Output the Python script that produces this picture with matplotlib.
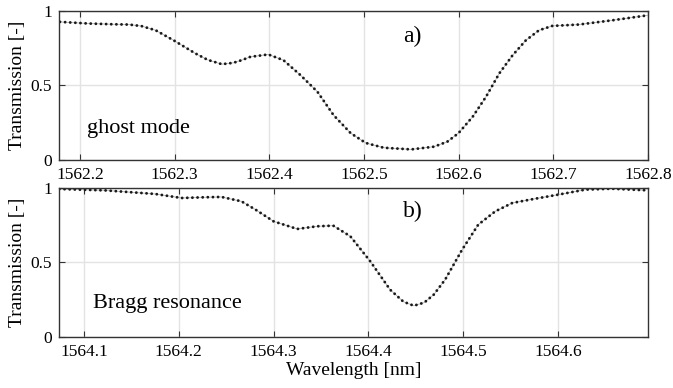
import matplotlib.pyplot as plt

# panel a) ghost mode
wl_a = [1562.179, 1562.209, 1562.235, 1562.252, 1562.265, 1562.280, 1562.300,
        1562.322, 1562.335, 1562.350, 1562.362, 1562.371, 1562.380, 1562.399,
        1562.415, 1562.433, 1562.451, 1562.468, 1562.486, 1562.502, 1562.521,
        1562.550, 1562.574, 1562.588, 1562.600, 1562.615, 1562.629, 1562.643,
        1562.657, 1562.671, 1562.685, 1562.699, 1562.727, 1562.763, 1562.800]
tr_a = [0.924, 0.913, 0.908, 0.906, 0.896, 0.868, 0.797,
        0.713, 0.670, 0.641, 0.650, 0.668, 0.690, 0.706,
        0.668, 0.568, 0.456, 0.300, 0.180, 0.114, 0.082,
        0.071, 0.089, 0.122, 0.180, 0.290, 0.423, 0.579,
        0.700, 0.800, 0.868, 0.897, 0.906, 0.935, 0.968]

# panel b) Bragg resonance
wl_b = [1564.074, 1564.122, 1564.175, 1564.203, 1564.228, 1564.245, 1564.266,
        1564.281, 1564.300, 1564.325, 1564.346, 1564.363, 1564.381, 1564.402,
        1564.423, 1564.437, 1564.448, 1564.459, 1564.469, 1564.481, 1564.499,
        1564.516, 1564.534, 1564.552, 1564.575, 1564.600, 1564.629, 1564.657,
        1564.692]
tr_b = [0.991, 0.982, 0.958, 0.931, 0.936, 0.938, 0.909,
        0.853, 0.775, 0.724, 0.742, 0.746, 0.675, 0.508,
        0.318, 0.238, 0.211, 0.232, 0.285, 0.385, 0.586,
        0.753, 0.842, 0.898, 0.925, 0.953, 0.987, 0.993,
        0.983]

ticks_a = [1562.2, 1562.3, 1562.4, 1562.5, 1562.6, 1562.7, 1562.8]
ticks_b = [1564.1, 1564.2, 1564.3, 1564.4, 1564.5, 1564.6]
yticks = [0, 0.5, 1]
ylabels = ['0', '0.5', '1']

plt.rcParams['font.family'] = ['Liberation Serif', 'DejaVu Serif']

fig = plt.figure(figsize=(6.73, 3.88), dpi=100)
ax1 = fig.add_axes([0.0877, 0.5876, 0.875, 0.3853])
ax2 = fig.add_axes([0.0877, 0.1307, 0.875, 0.3856])

panels = [(ax1, wl_a, tr_a, ticks_a, (1562.178, 1562.8), 'ghost mode', (1562.208, 0.18), 'a)', (1562.541, 0.79)),
          (ax2, wl_b, tr_b, ticks_b, (1564.0736, 1564.695), 'Bragg resonance', (1564.109, 0.196), 'b)', (1564.436, 0.806))]

for ax, x, y, xt, xl, name, npos, tag, tpos in panels:
    # faint line under round dots
    ax.plot(x, y, color='#b5b5b5', lw=0.6)
    ax.plot(x, y, linestyle=(0, (0.01, 1.75)), dash_capstyle='round',
            color='#1a1a1a', lw=2.1)
    ax.set_xlim(xl)
    ax.set_ylim(0, 1)
    ax.set_xticks(xt)
    ax.set_xticklabels([f'{t:.1f}' for t in xt])
    ax.set_yticks(yticks)
    ax.set_yticklabels(ylabels)
    ax.grid(True, color='#e3e3e3', lw=1)
    ax.set_axisbelow(True)
    ax.tick_params(direction='in', top=True, right=True, length=4, width=0.8,
                   color='#333333', labelsize=12.5, pad=5)
    for s in ax.spines.values():
        s.set_color('#333333')
        s.set_linewidth(1.0)
    ax.set_ylabel('Transmission [-]', fontsize=14, labelpad=3)
    ax.text(npos[0], npos[1], name, fontsize=16)
    ax.text(tpos[0], tpos[1], tag, fontsize=17)

ax2.set_xlabel('Wavelength [nm]', fontsize=14, labelpad=1)

fig.savefig('out.png', dpi=100)
